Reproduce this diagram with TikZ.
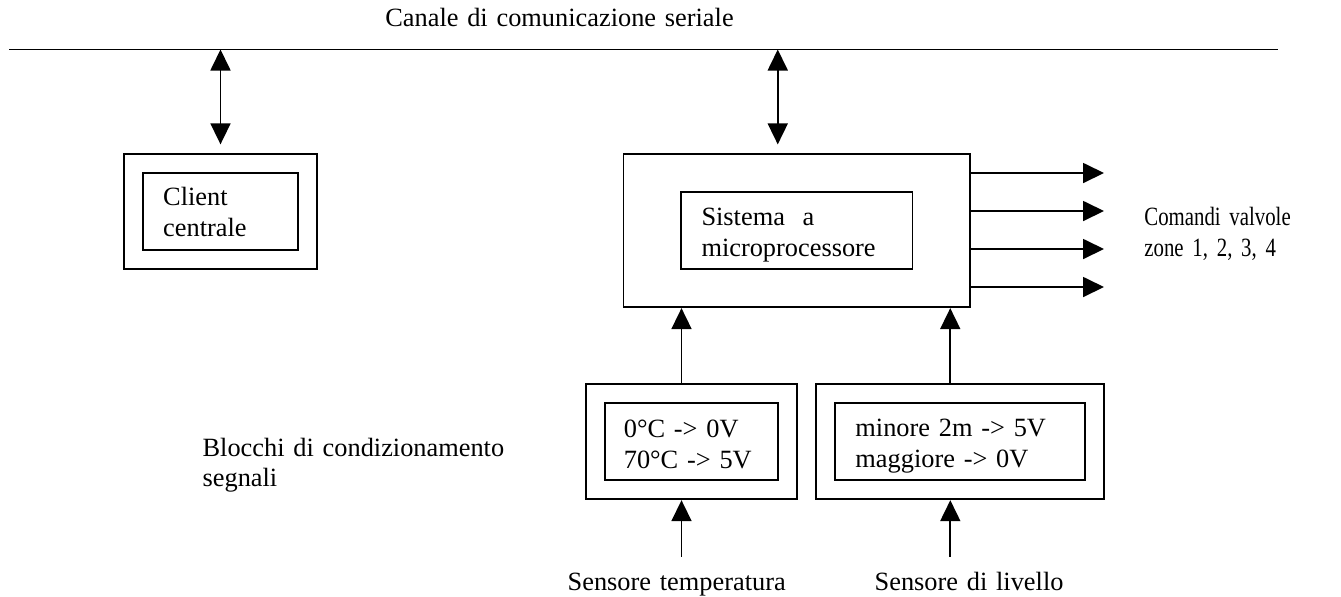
\documentclass[tikz,border=0pt]{standalone}
\usepackage{fontspec}
\setmainfont{Liberation Serif}
\newfontfamily\narrowserif[FakeStretch=0.79]{Liberation Serif}
\usepackage{tikz}
\usetikzlibrary{arrows.meta,positioning,calc}

\tikzset{
  every node/.style={font=\fontsize{15}{17.6}\selectfont},
  outbox/.style={draw, line width=1pt, inner sep=0pt, minimum height=2.30cm},
  inbox/.style={draw, line width=1pt, inner sep=0pt, minimum height=1.54cm},
  txt/.style={inner sep=0pt, text width=8cm, align=left, anchor=base west},
  arr/.style={-{Triangle[length=0.42cm,width=0.4cm]}, line width=1pt},
  dbl/.style={{Triangle[length=0.42cm,width=0.4cm]}-{Triangle[length=0.42cm,width=0.4cm]}, line width=1pt, shorten >=0.17cm}
}

\begin{document}
\begin{tikzpicture}[x=0.02cm, y=-0.02cm, on grid, node distance=2cm]
  \useasboundingbox (0,0) rectangle (1341,596);
  % serial bus
  \coordinate (busL) at (9,49.5);
  \coordinate (busR) at (1278,49.5);
  \draw[line width=1pt] (busL) -- (busR);
  \node[txt] (bustxt) at (385,26.7) {Canale di comunicazione seriale};

  % client
  \node[outbox, minimum width=3.86cm] (co) at (220.5,211.2) {};
  \node[inbox, minimum width=3.09cm] (ci) at (co) {};
  \node[txt] (ct) at ($(ci.north west)+(20.5,34)$) {Client\\centrale};
  \draw[dbl] (co.north |- busL) -- (co.north);

  % microprocessore
  \node[outbox, minimum width=6.93cm, minimum height=3.07cm] (mo) at (796.75,230.5) {};
  \node[inbox, minimum width=4.63cm] (mi) at (mo) {};
  \node[txt] (mt) at ($(mi.north west)+(21,34.7)$) {Sistema\ \ a\\microprocessore};
  \coordinate (mbus) at ($(mo.north)+(-19,0)$);
  \draw[dbl] (mbus |- busL) -- (mbus);

  % valvole
  \foreach \yy/\k in {173/1,211/2,249/3,287/4} {
    \coordinate (v\k) at (1104,\yy);
    \draw[arr] (mo.east |- v\k) -- (v\k);
  }
  \node[txt, font=\narrowserif\fontsize{15}{17.3}\selectfont] (vt) at (1144,225.7) {Comandi valvole\\zone 1, 2, 3, 4};

  % condizionamento
  \node[outbox, minimum width=4.23cm] (tco) at (691.5,441.8) {};
  \node[inbox, minimum width=3.47cm] (tci) at (tco) {};
  \node[txt] (tct) at ($(tci.north west)+(19.6,35)$) {0°C -> 0V\\70°C -> 5V};
  \node[outbox, minimum width=5.77cm, right=5.37cm of tco] (lco) {};
  \node[inbox, minimum width=5.00cm] (lci) at (lco) {};
  \node[txt] (lct) at ($(lci.north west)+(21,33.7)$) {minore 2m -> 5V\\maggiore -> 0V};
  \node[txt] (bt) at (202.3,456) {Blocchi di condizionamento\\segnali};

  \coordinate (tin) at ($(tco.north)+(-10,0)$);
  \coordinate (lin) at ($(lco.north)+(-9.7,0)$);
  \draw[arr] (tin) -- (tin |- mo.south);
  \draw[arr] (lin) -- (lin |- mo.south);

  % sensori
  \coordinate (sT) at (681.5,556.7);
  \coordinate (sL) at (950.3,556.7);
  \draw[arr] (sT) -- (tco.south -| sT);
  \draw[arr] (sL) -- (lco.south -| sL);
  \node[txt] (stt) at (567.3,590) {Sensore temperatura};
  \node[txt] (slt) at (874.3,590) {Sensore di livello};
\end{tikzpicture}
\end{document}
